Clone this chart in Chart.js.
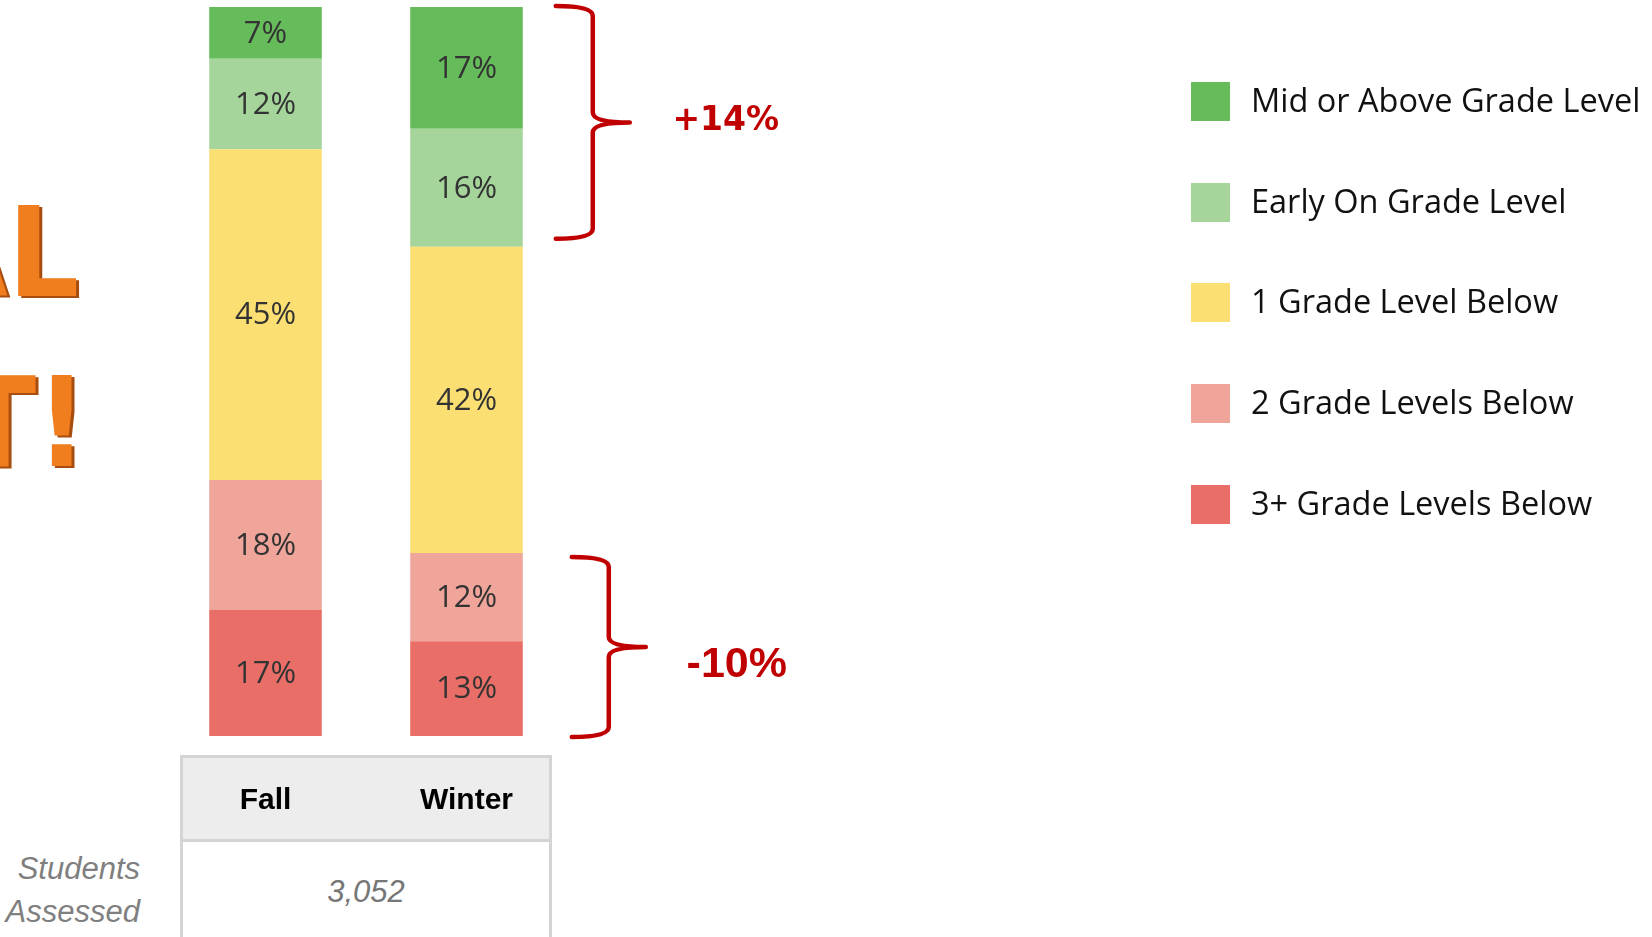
<!DOCTYPE html>
<html>
<head>
<meta charset="utf-8">
<script src="https://cdn.jsdelivr.net/npm/chart.js@4"></script>
<style>
  body { margin: 0; width: 1652px; height: 937px; overflow: hidden; position: relative; background: #fff; }
  .wordart { position: absolute; left: -200px; width: 279px; text-align: right; font: bold 124px "Liberation Sans Narrow", "DejaVu Sans Condensed", sans-serif; line-height: 122px; color: #f07d1e; text-shadow: 3px 2px 0 #a84d10; white-space: nowrap; }
  .tbl-head { position: absolute; left: 180px; top: 755px; width: 372px; height: 87px; box-sizing: border-box; background: #ededed; border: 3px solid #d4d4d4; }
  .tbl-body { position: absolute; left: 180px; top: 842px; width: 372px; height: 120px; box-sizing: border-box; border-left: 3px solid #d4d4d4; border-right: 3px solid #d4d4d4; }
  .count { position: absolute; left: 180px; width: 372px; top: 872px; text-align: center; font: italic 31px "Liberation Sans", sans-serif; line-height: 40px; color: #767676; }
  .students { position: absolute; left: 0; width: 140px; top: 847px; text-align: right; font: italic 31px "Liberation Sans", sans-serif; line-height: 43px; color: #7f7f7f; }
  #wrap { position: absolute; left: 0; top: 0; width: 1652px; height: 937px; }
  #legend { position: absolute; left: 1191px; top: 0; }
  .item { position: absolute; left: 0; display: flex; align-items: center; white-space: nowrap; }
  .item span.box { width: 39px; height: 39px; margin-right: 21px; }
  .item span.txt { font: 32.5px "Open Sans", sans-serif; color: #111; line-height: 39px; position: relative; top: -2px; }
</style>
</head>
<body>
<div class="wordart" style="top:192px">AL</div>
<div class="wordart" style="top:362px; left:-192px">T!</div>
<div class="tbl-head"></div>
<div class="tbl-body"></div>
<div class="count" id="count"></div>
<div class="students">Students<br>Assessed</div>
<div id="wrap"><canvas id="gradeChart" width="1652" height="937"></canvas></div>
<div id="legend"></div>
<script>
const seasons = ['Fall', 'Winter'];
const levelNames = ['3+ Grade Levels Below', '2 Grade Levels Below', '1 Grade Level Below', 'Early On Grade Level', 'Mid or Above Grade Level'];
const threeBelow = [17.3, 13.0];
const twoBelow = [17.8, 12.1];
const oneBelow = [45.4, 42.0];
const earlyOn = [12.4, 16.2];
const midOrAbove = [7.1, 16.7];
const studentsAssessed = '3,052';

const levelColors = ['#e86e67', '#f0a59b', '#fbdf72', '#a5d59a', '#66bb5a'];
const series = [threeBelow, twoBelow, oneBelow, earlyOn, midOrAbove];

document.getElementById('count').textContent = studentsAssessed;

const pct = v => Math.round(v);
const fmtChange = d => (d > 0 ? '+' : '') + d + '%';

// bracket drawn beside the winter bar
function drawBrace(ctx, xL, xV, xT, yT, yB) {
    const r = 10;
    const yM = (yT + yB) / 2;
    ctx.beginPath();
    ctx.moveTo(xL, yT);
    ctx.quadraticCurveTo(xV, yT, xV, yT + r);
    ctx.lineTo(xV, yM - r);
    ctx.quadraticCurveTo(xV, yM, xT, yM);
    ctx.moveTo(xT, yM);
    ctx.quadraticCurveTo(xV, yM, xV, yM + r);
    ctx.lineTo(xV, yB - r);
    ctx.quadraticCurveTo(xV, yB, xL, yB);
    ctx.stroke();
    return yM;
}

const barLabels = {
    id: 'barLabels',
    afterDatasetsDraw(chart) {
        const ctx = chart.ctx;
        ctx.save();
        ctx.font = '31px "Open Sans"';
        ctx.fillStyle = '#333';
        ctx.textAlign = 'center';
        ctx.textBaseline = 'middle';
        chart.data.datasets.forEach((ds, i) => {
            chart.getDatasetMeta(i).data.forEach((bar, j) => {
                const p = bar.getProps(['x', 'y', 'base'], true);
                ctx.fillText(pct(ds.data[j]) + '%', p.x, (p.y + p.base) / 2 + 1);
            });
        });
        ctx.restore();
    }
};

const changeBraces = {
    id: 'changeBraces',
    afterDraw(chart) {
        const ctx = chart.ctx;
        const metas = series.map((s, i) => chart.getDatasetMeta(i));
        const w = metas[0].data[1].getProps(['x', 'width'], true);
        const right = w.x + w.width / 2;

        const upper = pct(midOrAbove[1]) + pct(earlyOn[1]) - pct(midOrAbove[0]) - pct(earlyOn[0]);
        const lower = pct(threeBelow[1]) + pct(twoBelow[1]) - pct(threeBelow[0]) - pct(twoBelow[0]);

        ctx.save();
        ctx.strokeStyle = '#c00000';
        ctx.fillStyle = '#c00000';
        ctx.lineWidth = 4.5;
        ctx.lineCap = 'round';
        ctx.textAlign = 'center';
        ctx.textBaseline = 'middle';

        const topY = metas[4].data[1].y;
        const topB = metas[3].data[1].base;
        let ym = drawBrace(ctx, right + 33, right + 70, right + 107, topY - 1, topB - 8);
        ctx.font = 'bold 33px "DejaVu Sans"';
        ctx.fillText(fmtChange(upper), right + 203, ym - 1);

        const botY = metas[1].data[1].y;
        const botB = metas[0].data[1].base;
        ym = drawBrace(ctx, right + 49, right + 86, right + 123, botY + 4, botB + 1);
        ctx.font = 'bold 43px "Liberation Sans Narrow", "Liberation Sans"';
        ctx.fillText(fmtChange(lower), right + 214, ym + 18);
        ctx.restore();
    }
};

const chart = new Chart(document.getElementById('gradeChart').getContext('2d'), {
    type: 'bar',
    data: {
        labels: seasons,
        datasets: series.map((data, i) => ({
            label: levelNames[i],
            data: data,
            backgroundColor: levelColors[i],
            borderWidth: 0,
            categoryPercentage: 1,
            barPercentage: 0.56
        }))
    },
    options: {
        responsive: false,
        animation: false,
        events: [],
        layout: { padding: { left: 165, right: 1085, top: 7, bottom: 71 } },
        plugins: { legend: { display: false }, tooltip: { enabled: false } },
        scales: {
            x: {
                stacked: true,
                grid: { display: false, drawTicks: false },
                border: { display: false },
                ticks: { color: '#000', padding: 47, font: { family: 'Liberation Sans', size: 30, weight: 'bold' } }
            },
            y: { stacked: true, display: false, min: 0, max: 100 }
        }
    },
    plugins: [barLabels, changeBraces]
});

// legend, top level first
const legendEl = document.getElementById('legend');
chart.data.datasets.slice().reverse().forEach((ds, i) => {
    const row = document.createElement('div');
    row.className = 'item';
    row.style.top = (82 + i * 100.7) + 'px';
    row.innerHTML = '<span class="box" style="background:' + ds.backgroundColor + '"></span><span class="txt">' + ds.label + '</span>';
    legendEl.appendChild(row);
});
</script>
</body>
</html>
